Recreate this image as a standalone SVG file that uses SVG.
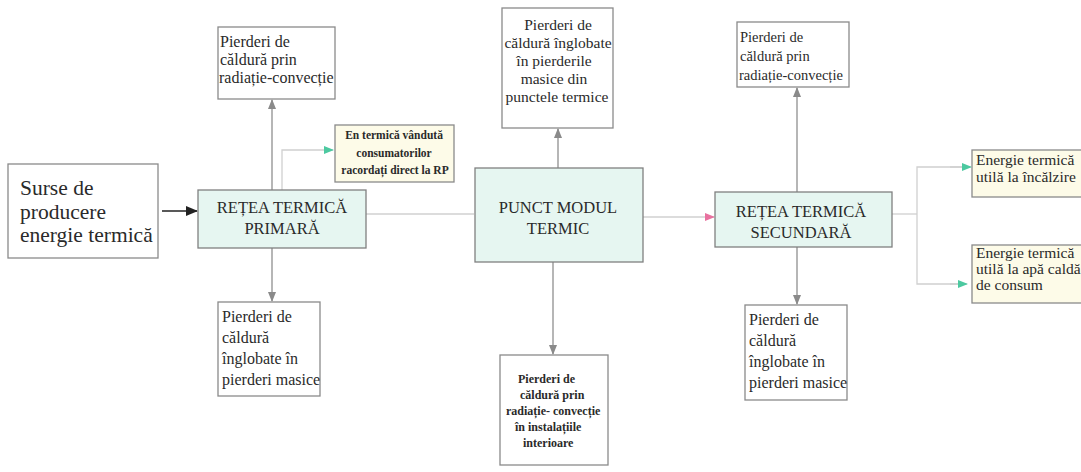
<svg xmlns="http://www.w3.org/2000/svg" width="1081" height="472" viewBox="0 0 1081 472" font-family="'Liberation Serif', serif">
<style>
.box{fill:#ffffff;stroke:#8a8a8a;stroke-width:1.3}
.teal{fill:#e6f6f1;stroke:#808080;stroke-width:1.3}
.yel{fill:#fdfbe8;stroke:#8a8a8a;stroke-width:1.3}
.t{font-family:"Liberation Serif",serif;fill:#2a2a2a}
.b{font-weight:bold}
.c{stroke:#8f8f8f;stroke-width:1.3;fill:none}
.lc{stroke:#d0d0d0;stroke-width:1.3;fill:none}
</style>
<defs>
<marker id="ag" markerWidth="10" markerHeight="10" refX="9" refY="5" orient="auto" markerUnits="userSpaceOnUse"><path d="M0,1 L10,5 L0,9 Z" fill="#8a8a8a"/></marker>
<marker id="ab" markerWidth="12" markerHeight="12" refX="11" refY="6" orient="auto" markerUnits="userSpaceOnUse"><path d="M0,1 L12,6 L0,11 Z" fill="#222"/></marker>
<marker id="agr" markerWidth="10" markerHeight="10" refX="9" refY="5" orient="auto" markerUnits="userSpaceOnUse"><path d="M0,1 L10,5 L0,9 Z" fill="#4cc9a0"/></marker>
<marker id="apk" markerWidth="10" markerHeight="10" refX="9" refY="5" orient="auto" markerUnits="userSpaceOnUse"><path d="M0,1 L10,5 L0,9 Z" fill="#e8719f"/></marker>
</defs>

<g id="connectors">
<line x1="162" y1="211" x2="197" y2="211" style="stroke:#222;stroke-width:1.4" marker-end="url(#ab)"/>
<line class="c" x1="272" y1="190" x2="272" y2="100" marker-end="url(#ag)"/>
<line class="c" x1="272" y1="248" x2="272" y2="301" marker-end="url(#ag)"/>
<polyline class="lc" points="282,190 282,150 333,150" marker-end="url(#agr)"/>
<line class="lc" x1="366" y1="214" x2="474" y2="214"/>
<line class="c" x1="558" y1="168" x2="558" y2="129" marker-end="url(#ag)"/>
<line class="c" x1="553" y1="262" x2="553" y2="354" marker-end="url(#ag)"/>
<line class="lc" x1="643" y1="217" x2="714" y2="217" marker-end="url(#apk)"/>
<line class="c" x1="797" y1="192" x2="797" y2="88" marker-end="url(#ag)"/>
<line class="c" x1="797" y1="247" x2="797" y2="304" marker-end="url(#ag)"/>
<polyline class="lc" points="892,214 917,214"/>
<polyline class="lc" points="970,167 917,167 917,284 966,284"/>
<line class="lc" x1="950" y1="167" x2="971" y2="167" marker-end="url(#agr)"/>
<line class="lc" x1="950" y1="284" x2="967" y2="284" marker-end="url(#agr)"/>
</g>

<g id="surse">
<rect class="box" x="8" y="164" width="150" height="94"/>
<text class="t" font-size="21.5"><tspan x="20" y="195">Surse de</tspan><tspan x="20" y="218.5">producere</tspan><tspan x="20" y="242">energie termică</tspan></text>
</g>

<g id="retea-primara">
<rect class="teal" x="198" y="190" width="168" height="58"/>
<text class="t" font-size="16.5" text-anchor="middle"><tspan x="282" y="213">REȚEA TERMICĂ</tspan><tspan x="282" y="234">PRIMARĂ</tspan></text>
</g>

<g id="pierderi-tl">
<rect class="box" x="218" y="27" width="117" height="72"/>
<text class="t" font-size="16"><tspan x="220" y="47">Pierderi de</tspan><tspan x="220" y="65">căldură prin</tspan><tspan x="219" y="83">radiație-convecție</tspan></text>
</g>

<g id="pierderi-bl">
<rect class="box" x="218" y="302" width="102" height="94"/>
<text class="t" font-size="16"><tspan x="222" y="322">Pierderi de</tspan><tspan x="222" y="343">căldură</tspan><tspan x="222" y="364">înglobate în</tspan><tspan x="222" y="385">pierderi masice</tspan></text>
</g>

<g id="en-vanduta">
<rect class="yel" x="335" y="125" width="119" height="57"/>
<text class="t b" font-size="11.5" text-anchor="middle"><tspan x="394" y="139">En termică vândută</tspan><tspan x="394" y="157">consumatorilor</tspan><tspan x="395" y="174">racordați direct la RP</tspan></text>
</g>

<g id="punct-modul">
<rect class="teal" x="475" y="168" width="168" height="94"/>
<text class="t" font-size="16.5" text-anchor="middle"><tspan x="558" y="213">PUNCT MODUL</tspan><tspan x="558" y="234">TERMIC</tspan></text>
</g>

<g id="pierderi-tm">
<rect class="box" x="502" y="8" width="111" height="120"/>
<text class="t" font-size="15.5" text-anchor="middle"><tspan x="558" y="30">Pierderi de</tspan><tspan x="558" y="48">căldură înglobate</tspan><tspan x="554" y="66">în pierderile</tspan><tspan x="554" y="84">masice din</tspan><tspan x="557" y="102">punctele termice</tspan></text>
</g>

<g id="pierderi-bm">
<rect class="box" x="500" y="355" width="108" height="110"/>
<text class="t b" font-size="12"><tspan x="518" y="383">Pierderi de</tspan><tspan x="520" y="399">căldură prin</tspan><tspan x="506" y="415">radiație- convecție</tspan><tspan x="515" y="431">în instalațiile</tspan><tspan x="523" y="447">interioare</tspan></text>
</g>

<g id="retea-secundara">
<rect class="teal" x="715" y="192" width="177" height="55"/>
<text class="t" font-size="16.5" text-anchor="middle"><tspan x="801" y="217">REȚEA TERMICĂ</tspan><tspan x="801" y="238">SECUNDARĂ</tspan></text>
</g>

<g id="pierderi-tr">
<rect class="box" x="737" y="22" width="112" height="65"/>
<text class="t" font-size="14.5"><tspan x="740" y="42">Pierderi de</tspan><tspan x="740" y="61">căldură prin</tspan><tspan x="739" y="80">radiație-convecție</tspan></text>
</g>

<g id="pierderi-br">
<rect class="box" x="745" y="305" width="102" height="95"/>
<text class="t" font-size="16"><tspan x="749" y="325">Pierderi de</tspan><tspan x="749" y="346">căldură</tspan><tspan x="749" y="367">înglobate în</tspan><tspan x="749" y="388">pierderi masice</tspan></text>
</g>

<g id="energie-incalzire">
<rect class="yel" x="972" y="150" width="115" height="47"/>
<text class="t" font-size="15.5"><tspan x="976" y="165">Energie termică</tspan><tspan x="976" y="182">utilă la încălzire</tspan></text>
</g>

<g id="energie-apa">
<rect class="yel" x="972" y="245" width="115" height="58"/>
<text class="t" font-size="15.5"><tspan x="976" y="258">Energie termică</tspan><tspan x="976" y="274">utilă la apă caldă</tspan><tspan x="976" y="290">de consum</tspan></text>
</g>
</svg>
